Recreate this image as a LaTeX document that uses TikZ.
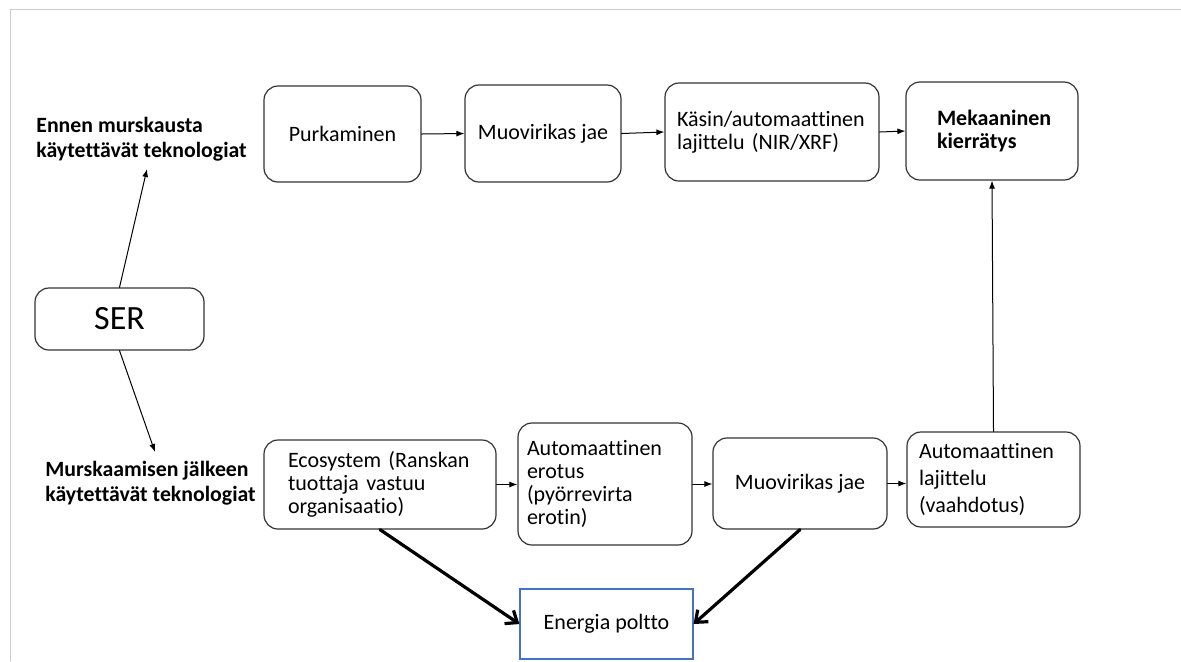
\documentclass[tikz,border=0pt]{standalone}
\usepackage{fontspec}
\setmainfont{Carlito}[Ligatures=CommonOff]
\usetikzlibrary{arrows.meta, calc}
\definecolor{bordoblu}{HTML}{4472C4}

\begin{document}
\begin{tikzpicture}[x=0.5pt, y=-0.5pt, line cap=round,
  box/.style={draw=black!80, line width=0.6pt, rounded corners=7pt, font=\fontsize{11pt}{11.6pt}\selectfont},
  lab/.style={font=\bfseries\fontsize{10.9pt}{12.6pt}\selectfont, align=left, anchor=west, inner sep=0pt},
  freccia/.style={-{Latex[length=4pt,width=3pt]}, line width=0.5pt},
  grossa/.style={-{Straight Barb[length=5pt,width=8pt]}, line width=1.6pt}]

\useasboundingbox (0,0) rectangle (1181,661);

% Cornice
\draw[gray!40, line width=0.5pt] (10,9) -- (1181,9);
\draw[gray!40, line width=0.5pt] (10,9) -- (10,661);

% Riga superiore
\node[box, minimum width=78.5pt, minimum height=48pt] (purk) at (342.5,134) {Purkaminen};
\node[box, minimum width=78pt, minimum height=48.5pt] (muo1) at (543,133.5) {Muovirikas jae};
\node[box, minimum width=107pt, minimum height=49pt, text width=95pt, align=left] (kasin) at (772,132) {Käsin/automaattinen\\lajittelu (NIR/XRF)};
\node[box, minimum width=86pt, minimum height=49pt, text width=55pt, align=left,
  font=\bfseries\fontsize{11pt}{11.6pt}\selectfont] (mek) at (992,131) {Mekaaninen\\kierrätys};

% SER ed etichette
\node[box, minimum width=84.5pt, minimum height=31pt, font=\fontsize{17pt}{20pt}\selectfont] (ser) at (119.5,319) {SER};
\node[lab] (ennen) at (36,139.5) {Ennen murskausta\\käytettävät teknologiat};
\node[lab] (murskaus) at (45,483) {Murskaamisen jälkeen\\käytettävät teknologiat};
\coordinate (ennenTip) at (147,169);
\coordinate (murskTip) at (155,452);

% Riga inferiore
\node[box, minimum width=116pt, minimum height=44.5pt, text width=92pt, align=left] (eco) at (380,484.5) {Ecosystem (Ranskan\\tuottaja vastuu\\organisaatio)};
\node[box, minimum width=87pt, minimum height=61pt, text width=78pt, align=left] (erotus) at (605,484) {Automaattinen\\erotus\\(pyörrevirta\\erotin)};
\node[box, minimum width=87pt, minimum height=45.5pt] (muo2) at (800,483.5) {Muovirikas jae};
\node[box, minimum width=86.5pt, minimum height=47.5pt, text width=74.5pt, align=left,
  font=\fontsize{11pt}{13.5pt}\selectfont] (lajit) at (993.5,479.5) {Automaattinen\\lajittelu\\(vaahdotus)};

% Energia
\node[draw=bordoblu, line width=0.6pt, minimum width=86.5pt, minimum height=35pt,
  font=\fontsize{11pt}{11.6pt}\selectfont] (energia) at (606.5,624) {Energia poltto};

% Frecce
\draw[freccia] (ser.north) -- (ennenTip);
\draw[freccia] (ser.south) -- (murskTip);
\draw[freccia] (purk.east) -- (muo1.west);
\draw[freccia] (muo1.east) -- (kasin.west);
\draw[freccia] (kasin.east) -- (mek.west);
\draw[freccia] (eco.east) -- (eco.east -| erotus.west);
\draw[freccia] (erotus.east) -- (erotus.east -| muo2.west);
\draw[freccia] (muo2.east) -- (muo2.east -| lajit.west);
\draw[freccia] (lajit.north) -- (mek.south);
\draw[grossa] (eco.south) -- (energia.west);
\draw[grossa] (muo2.south) -- (energia.east);

\end{tikzpicture}
\end{document}
